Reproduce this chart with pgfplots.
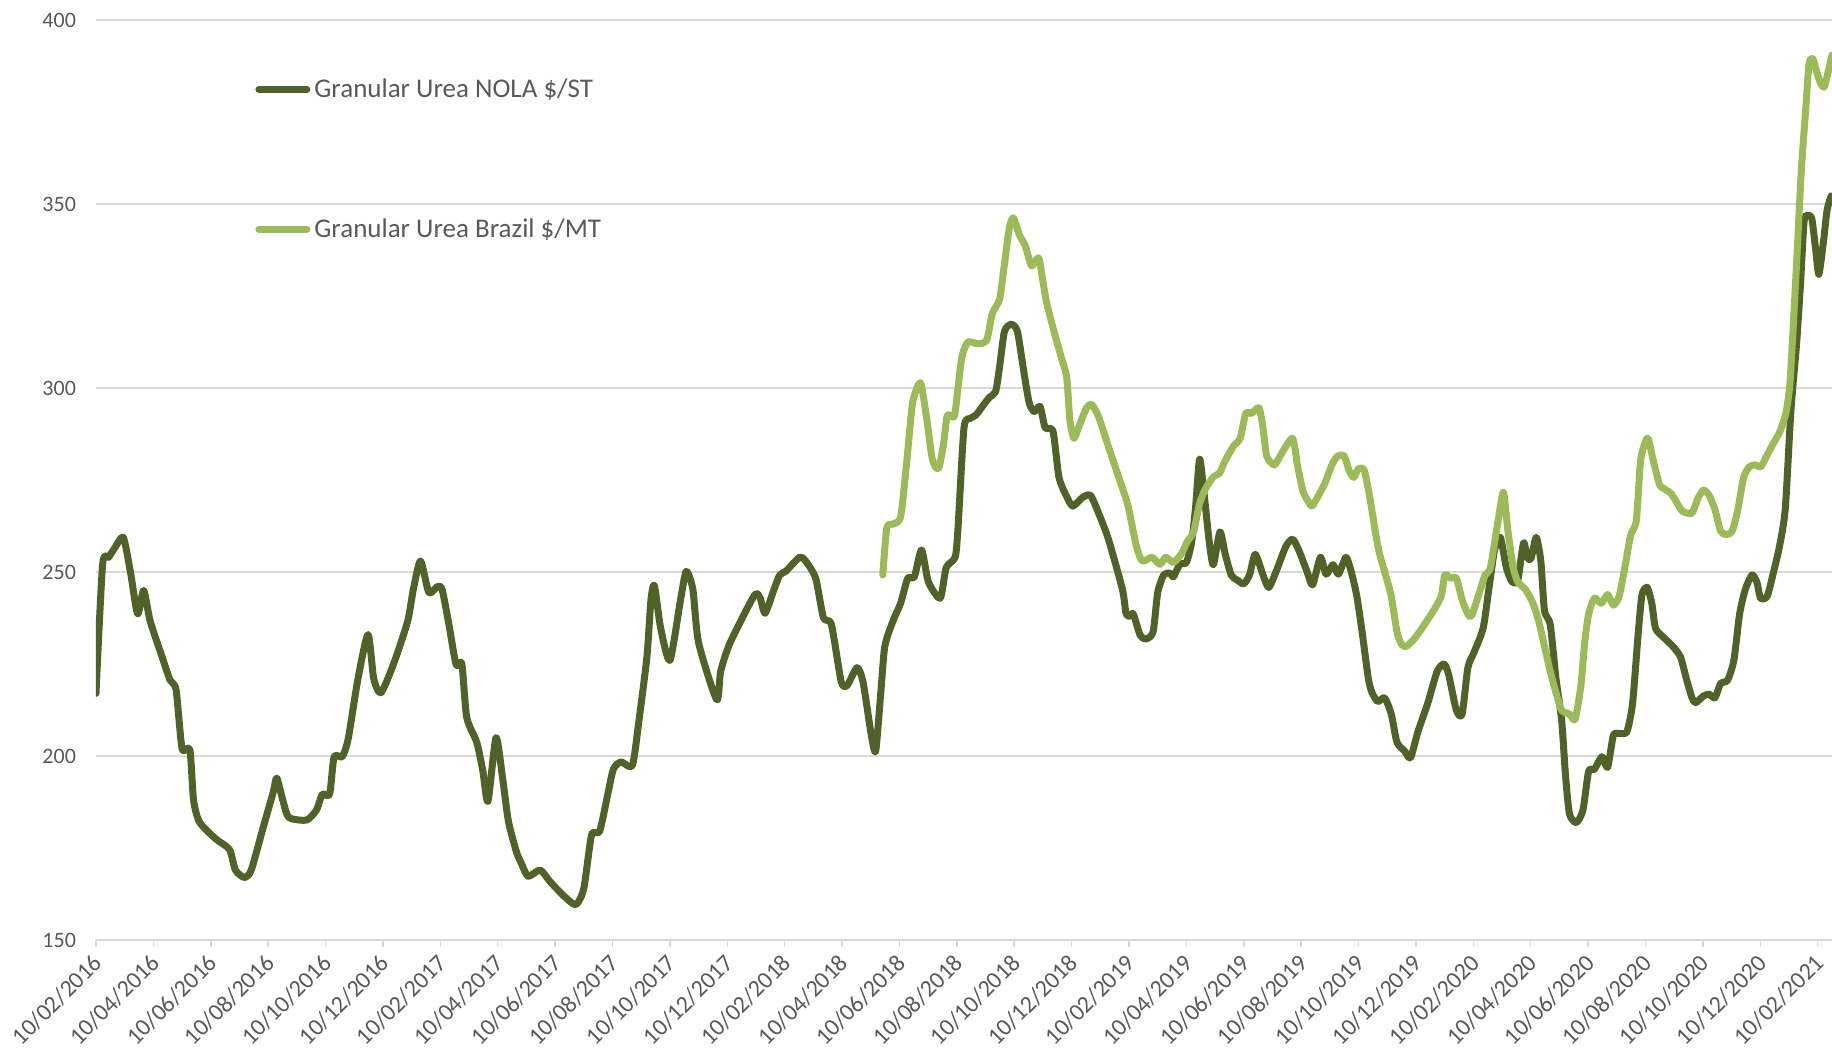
\documentclass[border=0pt]{standalone}
\usepackage{pgfplots}
\pgfplotsset{compat=1.18}
\usepackage{fontspec}
\setmainfont{Carlito}
\definecolor{nola}{HTML}{4F6228}
\definecolor{brazil}{HTML}{9BBB59}
\definecolor{gridgrey}{HTML}{D9D9D9}
\definecolor{labelgrey}{HTML}{595959}

\begin{document}
\begin{tikzpicture}
\begin{axis}[
  scale only axis,
  width=868pt, height=460pt,
  xmin=0, xmax=60.5,
  ymin=150, ymax=400,
  ytick={150,200,...,400},
  xtick={0,2,...,60},
  xticklabels={10/02/2016,10/04/2016,10/06/2016,10/08/2016,10/10/2016,10/12/2016,
    10/02/2017,10/04/2017,10/06/2017,10/08/2017,10/10/2017,10/12/2017,
    10/02/2018,10/04/2018,10/06/2018,10/08/2018,10/10/2018,10/12/2018,
    10/02/2019,10/04/2019,10/06/2019,10/08/2019,10/10/2019,10/12/2019,
    10/02/2020,10/04/2020,10/06/2020,10/08/2020,10/10/2020,10/12/2020,
    10/02/2021},
  axis x line*=bottom,
  axis y line*=left,
  y axis line style={draw=none},
  x axis line style={draw=gridgrey, line width=0.75pt},
  xtick style={draw=gridgrey, line width=0.75pt},
  ytick style={draw=none},
  tick align=outside,
  major tick length=3.5pt,
  ymajorgrids,
  grid style={gridgrey, line width=0.75pt},
  /pgf/number format/assume math mode=true,
  ticklabel style={text=labelgrey},
  yticklabel style={font=\fontsize{11}{13}\selectfont, xshift=-3pt},
  xticklabel style={font=\fontsize{12}{14}\selectfont, xshift=3.5pt, yshift=-3.5pt, rotate=45, anchor=east},
  legend style={at={(axis description cs:0.0916,0.941)}, anchor=north west,
    draw=none, fill=none, inner sep=0pt, row sep=55pt,
    font=\fontsize{13.5}{16}\selectfont, text=labelgrey,
    /tikz/every even column/.append style={column sep=0pt}},
  legend cell align=left,
  legend image code/.code={\draw[#1, line cap=round] (0pt,0pt) -- (24pt,0pt);},
  every axis plot/.append style={line width=3.5pt, line join=round, line cap=round, smooth, tension=0.4},
]
\coordinate (sw) at (rel axis cs:0,0);
\coordinate (ne) at (rel axis cs:1,1);

% Granular Urea NOLA $/ST
\addplot[nola] coordinates {
(0.00,217) (0.23,252) (0.44,254) (0.65,256.5) (0.95,259.4) (1.20,250) (1.45,238.6)
(1.66,245) (1.89,236.6) (2.30,227) (2.58,220.6) (2.79,218) (3.00,202) (3.27,201.7)
(3.40,188) (3.61,182) (4.17,177.5) (4.65,174.6) (4.86,169) (5.17,167) (5.41,169)
(5.82,180.4) (6.17,190) (6.30,194) (6.51,188) (6.72,183.3) (7.34,182.6) (7.68,185.3)
(7.89,189.6) (8.14,189.6) (8.30,199.8) (8.58,199.8) (8.79,204.7) (9.13,221) (9.48,233)
(9.68,221) (9.93,217.2) (10.37,225) (10.86,236.6) (11.06,245.3) (11.31,253) (11.60,244.4)
(11.89,246) (12.06,245.3) (12.30,235.7) (12.55,224.8) (12.75,225) (12.92,210.5) (13.27,203.7)
(13.48,196) (13.66,187.7) (13.94,205) (14.17,194) (14.37,182.4) (14.65,174) (14.83,170.7)
(15.06,167.3) (15.48,169) (15.82,165.9) (16.30,162) (16.72,159.6) (17.00,164) (17.27,178.5)
(17.55,179.5) (17.82,189) (18.03,196.4) (18.30,198.4) (18.69,197.4) (18.92,209.5) (19.20,227)
(19.34,242.4) (19.46,246.3) (19.68,234.7) (20.00,226) (20.37,242.4) (20.57,250.2) (20.80,245.3)
(21.00,230.8) (21.63,215.3) (21.77,223) (22.10,230.8) (22.94,243.6) (23.14,243) (23.32,238.8)
(23.63,245.3) (23.83,249.2) (24.04,250.2) (24.52,254) (24.73,253) (25.08,248.3) (25.35,237.6)
(25.63,235.7) (25.97,220.2) (26.18,219.2) (26.52,224) (26.73,220.2) (27.00,206.6) (27.17,201.3)
(27.35,217.2) (27.49,229.8) (27.77,236.6) (28.04,241.5) (28.29,248.3) (28.52,248.7) (28.77,256)
(29.01,247.3) (29.42,242.9) (29.63,251.2) (29.94,254) (30.04,261.8) (30.25,289.2) (30.46,291.7)
(30.66,292.6) (30.94,295.5) (31.14,297.5) (31.35,299) (31.49,305.7) (31.66,315.4) (31.90,317.3)
(32.11,315.4) (32.31,305.7) (32.52,296) (32.70,293.6) (32.90,295) (33.08,289.2) (33.35,288.3)
(33.56,275.7) (33.81,270.8) (34.04,267.9) (34.39,270.3) (34.66,270.8) (34.94,266) (35.28,259)
(35.77,245.3) (35.90,238.6) (36.04,238) (36.15,238.6) (36.39,232.8) (36.59,231.8) (36.84,233.7)
(37.00,244.4) (37.21,249.2) (37.42,249.7) (37.55,248.7) (37.77,252.1) (38.00,252.6) (38.18,258)
(38.32,267.6) (38.46,280.7) (38.60,272.5) (38.80,258) (38.94,252) (39.17,260.9) (39.35,255)
(39.56,249.2) (39.77,247.8) (40.00,246.8) (40.20,249.2) (40.40,254.8) (40.67,249.2) (40.87,245.8)
(41.13,250.2) (41.47,257) (41.71,258.9) (41.94,255.5) (42.20,250.2) (42.40,246.5) (42.67,254)
(42.87,249.4) (43.11,252) (43.30,249.4) (43.56,254) (43.74,250.2) (43.94,243.4) (44.14,232.8)
(44.34,221.1) (44.47,217.2) (44.67,214.8) (44.91,215.8) (45.14,211.4) (45.34,203.7) (45.61,201.3)
(45.81,199.5) (46.07,206.6) (46.41,214.3) (46.74,223) (46.98,225) (47.14,222.1) (47.41,212.4)
(47.61,211.4) (47.81,224) (48.01,227.9) (48.34,234.7) (48.54,245.3) (48.74,256) (48.94,259.4)
(49.15,251.2) (49.35,247.3) (49.55,247.8) (49.75,257.9) (49.88,254) (50.01,253.6) (50.19,259.4)
(50.35,253.1) (50.48,239.5) (50.68,235.7) (50.88,221.1) (51.08,209.5) (51.21,195) (51.35,184.3)
(51.59,181.9) (51.82,185.3) (52.02,195.9) (52.22,196.4) (52.48,199.8) (52.68,196.9) (52.88,205.6)
(53.08,206.1) (53.35,206.6) (53.55,214.3) (53.75,233.7) (53.88,243.9) (54.06,245.8) (54.22,241.5)
(54.35,234.7) (54.62,232.3) (54.95,229.8) (55.22,226.9) (55.42,221.1) (55.62,215.8) (55.75,214.5)
(56.02,216.3) (56.22,216.8) (56.42,215.8) (56.62,219.7) (56.86,220.6) (57.08,226) (57.28,238.6)
(57.48,245.3) (57.71,249.2) (57.88,247.3) (58.01,242.9) (58.24,243.4) (58.47,250.2) (58.67,257)
(58.87,267) (59.07,294) (59.27,312.5) (59.40,328) (59.53,345.4) (59.67,346.9) (59.80,345.9)
(59.93,337.7) (60.04,330.9) (60.20,339.6) (60.33,348.4) (60.47,352.2)
};
\addlegendentry{Granular Urea NOLA \$/ST}

% Granular Urea Brazil $/MT
\addplot[brazil] coordinates {
(27.42,249.2) (27.56,262) (27.77,263) (28.04,265) (28.25,279.6) (28.46,296) (28.73,301.4)
(28.94,292.2) (29.15,280.5) (29.36,278.1) (29.53,284.4) (29.67,292.6) (29.91,292.2) (30.04,300)
(30.18,308.6) (30.39,312.5) (30.73,312) (31.04,313) (31.24,320.3) (31.49,324.1) (31.63,331.9)
(31.83,343.5) (31.97,346.2) (32.18,341.6) (32.38,338.7) (32.59,333.3) (32.70,334) (32.86,335.3)
(33.00,329) (33.13,323.2) (33.42,314.4) (33.63,308.6) (33.83,302.8) (33.94,291.2) (34.08,286.3)
(34.24,289.2) (34.52,294.6) (34.70,295.5) (34.94,292.2) (35.35,282.5) (35.77,272.8) (35.97,267.9)
(36.25,257.3) (36.46,253) (36.80,254) (37.08,252.1) (37.28,254) (37.55,252.6) (37.83,255)
(38.04,258.4) (38.25,260.9) (38.46,268.6) (38.66,272.5) (38.94,275.9) (39.15,276.8) (39.35,280.2)
(39.63,284.1) (39.87,286.3) (40.07,293.1) (40.27,293.1) (40.53,294.6) (40.67,289.2) (40.80,281.5)
(41.07,279.1) (41.34,282.5) (41.70,286.3) (41.88,278.6) (42.07,271.8) (42.27,268.9) (42.40,268.1)
(42.80,273.7) (43.07,279.1) (43.27,281.5) (43.50,281.5) (43.67,277.6) (43.83,275.7) (44.00,278.1)
(44.20,277.6) (44.40,269.9) (44.60,260.2) (44.73,255) (44.94,249.2) (45.14,243.4) (45.34,233.7)
(45.50,230.3) (45.67,229.8) (45.94,231.8) (46.21,234.7) (46.61,239.5) (46.88,243.4) (47.01,249.2)
(47.21,248.3) (47.41,248.3) (47.61,242.4) (47.81,238.6) (47.94,238.1) (48.21,244.4) (48.41,249.2)
(48.58,250.7) (48.74,257.9) (48.88,264.7) (49.05,271.7) (49.21,260.9) (49.39,251.2) (49.55,247.3)
(49.81,245.3) (50.08,241.5) (50.28,236.6) (50.48,229.8) (50.68,223) (50.88,217.2) (51.08,212.4)
(51.35,211.4) (51.55,210) (51.75,219.2) (51.88,230.8) (52.02,238.6) (52.22,242.9) (52.46,241.5)
(52.68,243.9) (52.88,241) (53.08,243.4) (53.28,251.2) (53.48,259.9) (53.68,264) (53.82,279.6)
(53.95,284.4) (54.09,286.3) (54.29,279.6) (54.49,273.7) (54.62,272.8) (54.89,271.3) (55.09,268.9)
(55.29,266.5) (55.62,266) (55.82,269.9) (56.02,272.3) (56.22,270.8) (56.42,267) (56.62,261.1)
(56.82,260.2) (57.02,261.1) (57.22,267) (57.42,275.7) (57.62,278.6) (57.82,279.1) (58.02,278.6)
(58.22,281.5) (58.42,284.4) (58.69,288.3) (58.89,293.1) (59.03,300.9) (59.16,318.3) (59.29,337.7)
(59.43,359) (59.59,376.5) (59.70,388.1) (59.83,389.5) (59.96,386.1) (60.10,382.8) (60.23,381.8)
(60.37,386.1) (60.50,390.5)
};
\addlegendentry{Granular Urea Brazil \$/MT}
\end{axis}
\path (ne) ++(0pt,10pt) coordinate (tr);
\pgfresetboundingbox
\path (sw) ++(-48pt,-59.5pt) rectangle (tr);
\end{tikzpicture}
\end{document}
